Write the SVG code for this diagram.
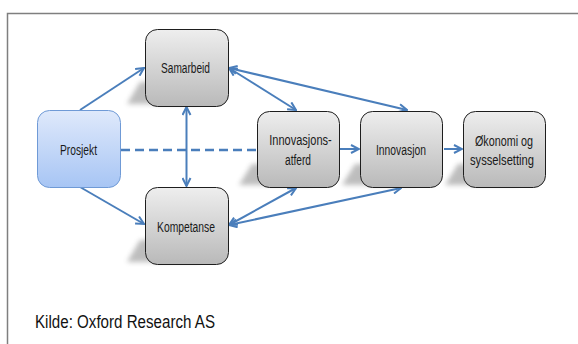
<svg xmlns="http://www.w3.org/2000/svg" width="578" height="344" viewBox="0 0 578 344">
<defs>
<linearGradient id="gGray" x1="0" y1="0" x2="0" y2="1">
<stop offset="0" stop-color="#eeeeee"/>
<stop offset="1" stop-color="#b9b9b9"/>
</linearGradient>
<linearGradient id="gBlue" x1="0" y1="0" x2="0" y2="1">
<stop offset="0" stop-color="#dfe9fb"/>
<stop offset="1" stop-color="#a7c5f4"/>
</linearGradient>
<filter id="blur" x="-50%" y="-50%" width="200%" height="200%">
<feGaussianBlur stdDeviation="2.5"/>
</filter>
<marker id="ah" viewBox="0 0 10 10" refX="9" refY="5" markerWidth="10" markerHeight="10" markerUnits="userSpaceOnUse" orient="auto-start-reverse">
<path d="M1,1 L9,5 L1,9" fill="none" stroke="#4a7ebb" stroke-width="2" stroke-linejoin="miter"/>
</marker>
</defs>
<style>
.frame{fill:none;stroke:#7f7f7f;stroke-width:1.5}
.box{fill:url(#gGray);stroke:#1e1e1e;stroke-width:1}
.blue{fill:url(#gBlue);stroke:#6f9ad6;stroke-width:1}
.shadow{fill:#6e6e6e;opacity:0.45;filter:url(#blur)}
.lbl{font-family:"Liberation Sans",Arial,sans-serif;font-size:14px;fill:#1a1a1a;text-anchor:middle}
.src{font-family:"Liberation Sans",Arial,sans-serif;font-size:17.5px;fill:#111}
.c{fill:none;stroke:#4a7ebb;stroke-width:2}
.dash{stroke-dasharray:9 5;stroke-width:2.5}
</style>
<rect class="frame" x="7.5" y="13.5" width="585" height="345"/>

<g id="shadows">
<polygon class="shadow" points="140,82 200,82 200,104 127,104"/>
<polygon class="shadow" points="140,240 200,240 200,262 127,262"/>
<polygon class="shadow" points="252,164 312,164 312,185 239,185"/>
<polygon class="shadow" points="355,164 415,164 415,185 342,185"/>
<polygon class="shadow" points="458,164 518,164 518,185 445,185"/>
</g>

<g id="connectors">
<line class="c" x1="80" y1="110" x2="144" y2="68" marker-end="url(#ah)"/>
<line class="c" x1="80" y1="187" x2="144" y2="224" marker-end="url(#ah)"/>
<line class="c" x1="186.5" y1="107" x2="186.5" y2="186" marker-start="url(#ah)" marker-end="url(#ah)"/>
<line class="c dash" x1="121" y1="150" x2="257" y2="150"/>
<line class="c" x1="229" y1="68" x2="296" y2="110" marker-start="url(#ah)" marker-end="url(#ah)"/>
<line class="c" x1="229" y1="68" x2="407" y2="110" marker-start="url(#ah)" marker-end="url(#ah)"/>
<line class="c" x1="229" y1="225" x2="296" y2="188" marker-start="url(#ah)" marker-end="url(#ah)"/>
<line class="c" x1="229" y1="225" x2="401" y2="188" marker-start="url(#ah)" marker-end="url(#ah)"/>
<line class="c" x1="340" y1="149" x2="359" y2="149" marker-end="url(#ah)"/>
<line class="c" x1="444" y1="149" x2="462" y2="149" marker-end="url(#ah)"/>
</g>

<g id="prosjekt">
<rect class="blue" x="37.5" y="110.5" width="83" height="77" rx="12"/>
<text class="lbl" x="78.5" y="155" textLength="37" lengthAdjust="spacingAndGlyphs">Prosjekt</text>
</g>
<g id="samarbeid">
<rect class="box" x="145.5" y="29.5" width="83" height="77" rx="12"/>
<text class="lbl" x="185.5" y="72.5" textLength="49" lengthAdjust="spacingAndGlyphs">Samarbeid</text>
</g>
<g id="kompetanse">
<rect class="box" x="145.5" y="187.5" width="83" height="77" rx="12"/>
<text class="lbl" x="186" y="231.5" textLength="58" lengthAdjust="spacingAndGlyphs">Kompetanse</text>
</g>
<g id="innovasjonsatferd">
<rect class="box" x="257.5" y="111.5" width="82" height="76" rx="12"/>
<text class="lbl" x="300.5" y="145" textLength="62.5" lengthAdjust="spacingAndGlyphs">Innovasjons-</text>
<text class="lbl" x="298" y="165" textLength="26" lengthAdjust="spacingAndGlyphs">atferd</text>
</g>
<g id="innovasjon">
<rect class="box" x="360.5" y="111.5" width="82" height="76" rx="12"/>
<text class="lbl" x="401" y="155" textLength="50" lengthAdjust="spacingAndGlyphs">Innovasjon</text>
</g>
<g id="okonomi">
<rect class="box" x="463.5" y="111.5" width="82" height="76" rx="12"/>
<text class="lbl" x="504" y="145.5" textLength="58" lengthAdjust="spacingAndGlyphs">Økonomi og</text>
<text class="lbl" x="502" y="165" textLength="64" lengthAdjust="spacingAndGlyphs">sysselsetting</text>
</g>

<text class="src" x="35" y="327.5" textLength="180" lengthAdjust="spacingAndGlyphs">Kilde: Oxford Research AS</text>
</svg>
